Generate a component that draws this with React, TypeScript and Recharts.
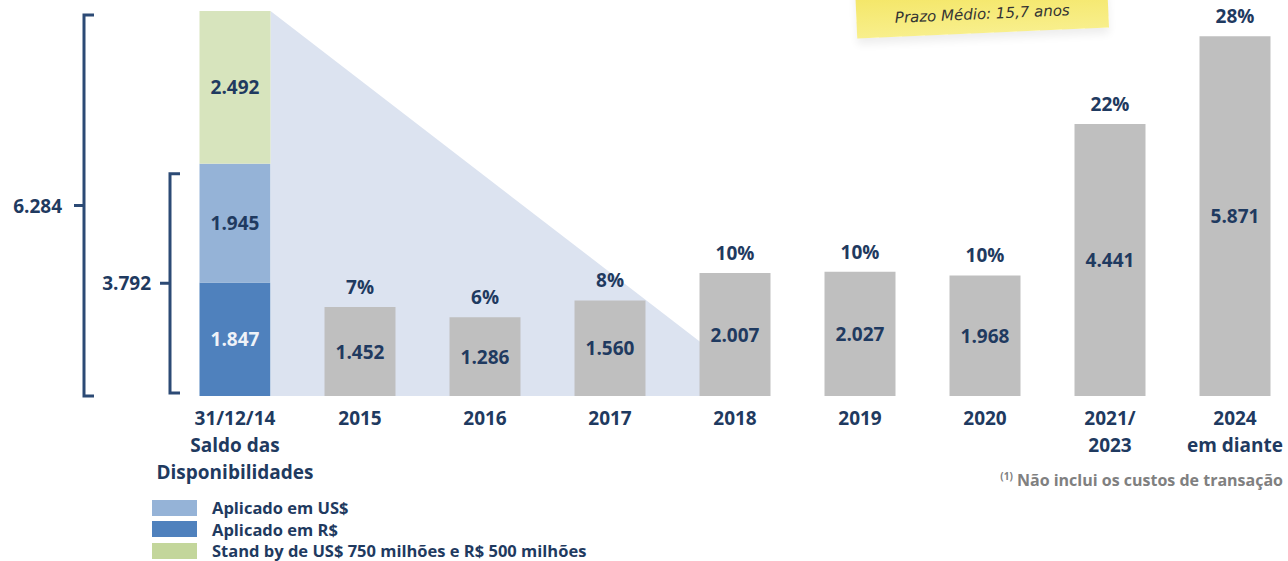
import React from "react";
import { BarChart, Bar, XAxis, YAxis, LabelList } from "recharts";

const categories = [
  "31/12/14\nSaldo das\nDisponibilidades",
  "2015",
  "2016",
  "2017",
  "2018",
  "2019",
  "2020",
  "2021/\n2023",
  "2024\nem diante",
];
const aplicadoRS = [1847, null, null, null, null, null, null, null, null];
const aplicadoUS = [1945, null, null, null, null, null, null, null, null];
const standBy = [2492, null, null, null, null, null, null, null, null];
const vencimentos = [null, 1452, 1286, 1560, 2007, 2027, 1968, 4441, 5871];
const percentuais = [null, 7, 6, 8, 10, 10, 10, 22, 28];

const legendItems = [
  { label: "Aplicado em US$", color: "#95b3d7" },
  { label: "Aplicado em R$", color: "#4f81bd" },
  { label: "Stand by de US$ 750 milhões e R$ 500 milhões", color: "#c3d69b" },
];

const data = categories.map((cat, i) => ({
  cat,
  rs: aplicadoRS[i],
  us: aplicadoUS[i],
  standby: standBy[i],
  venc: vencimentos[i],
  pct: percentuais[i],
}));

const W = 1288;
const H = 561;
const MARGIN = { top: 11, right: -9.5, left: 172.5, bottom: 85 };
const XAXIS_H = 80;
const PLOT_W = W - MARGIN.left - MARGIN.right;
const PLOT_BOTTOM = H - MARGIN.bottom - XAXIS_H;
const BAND = PLOT_W / categories.length;

const NAVY = "#1f3a60";
const FONT = "'Open Sans', sans-serif";

const fmt = (v: number) => String(v).replace(/\B(?=(\d{3})+(?!\d))/g, ".");

const totalInvested = (aplicadoRS[0] ?? 0) + (aplicadoUS[0] ?? 0);
const totalAll = totalInvested + (standBy[0] ?? 0);

function Bracket({ x, top, bottom, label, textGap }: any) {
  const mid = (top + bottom) / 2;
  return (
    <g>
      <path
        d={`M${x + 10},${top} L${x},${top} L${x},${bottom} L${x + 10},${bottom} M${x},${mid} L${x - 10},${mid}`}
        fill="none"
        stroke="#2c4a75"
        strokeWidth={3}
      />
      <text
        x={x - textGap}
        y={mid}
        dy={7}
        textAnchor="end"
        fontFamily={FONT}
        fontWeight={700}
        fontSize={19}
        fill={NAVY}
      >
        {label}
      </text>
    </g>
  );
}

// segmento verde: desenha tambem o triangulo e a chave externa
function StandByShape(props: any) {
  const { x, y, width, height, index, fill } = props;
  if (!height || height <= 0) return null;
  const right = x + width;
  const endX = right + 4 * BAND;
  return (
    <g>
      {index === 0 && (
        <polygon
          points={`${right},${y} ${endX},${PLOT_BOTTOM} ${right},${PLOT_BOTTOM}`}
          fill="#dce3f0"
        />
      )}
      <rect x={x} y={y} width={width} height={height} fill={fill} />
      {index === 0 && (
        <Bracket x={x - 115.5} top={y + 4} bottom={PLOT_BOTTOM} label={fmt(totalAll)} textGap={22} />
      )}
    </g>
  );
}

function USShape(props: any) {
  const { x, y, width, height, index, fill } = props;
  if (!height || height <= 0) return null;
  return (
    <g>
      <rect x={x} y={y} width={width} height={height} fill={fill} />
      {index === 0 && (
        <Bracket x={x - 29.5} top={y + 10} bottom={PLOT_BOTTOM - 3} label={fmt(totalInvested)} textGap={19} />
      )}
    </g>
  );
}

const valueLabel = (color: string) => (props: any) => {
  const { x, y, width, height, value } = props;
  if (value == null) return null;
  return (
    <text
      x={x + width / 2}
      y={y + height / 2}
      dy={7}
      textAnchor="middle"
      fontFamily={FONT}
      fontWeight={700}
      fontSize={19}
      fill={color}
    >
      {fmt(value)}
    </text>
  );
};

const pctLabel = (props: any) => {
  const { x, y, width, value } = props;
  if (value == null) return null;
  return (
    <text
      x={x + width / 2}
      y={y - 13}
      textAnchor="middle"
      fontFamily={FONT}
      fontWeight={700}
      fontSize={19}
      fill={NAVY}
    >
      {value}%
    </text>
  );
};

function CatTick(props: any) {
  const { x, payload } = props;
  const lines = String(payload.value).split("\n");
  return (
    <text
      x={x}
      y={PLOT_BOTTOM + 29}
      textAnchor="middle"
      fontFamily={FONT}
      fontWeight={700}
      fontSize={19}
      fill={NAVY}
    >
      {lines.map((l, i) => (
        <tspan key={i} x={x} dy={i === 0 ? 0 : 27}>
          {l}
        </tspan>
      ))}
    </text>
  );
}

export default function App() {
  return (
    <div style={{ position: "relative", width: W, height: H, fontFamily: FONT, overflow: "hidden" }}>
      <style>{`body{margin:0}`}</style>
      <BarChart width={W} height={H} data={data} margin={MARGIN} barSize={71}>
        <XAxis
          dataKey="cat"
          axisLine={false}
          tickLine={false}
          interval={0}
          height={XAXIS_H}
          tick={<CatTick />}
        />
        <YAxis hide domain={[0, totalAll]} />
        <Bar dataKey="rs" stackId="a" fill="#4f81bd" isAnimationActive={false}>
          <LabelList dataKey="rs" content={valueLabel("#eef2f8")} />
        </Bar>
        <Bar dataKey="us" stackId="a" fill="#95b3d7" isAnimationActive={false} shape={<USShape />}>
          <LabelList dataKey="us" content={valueLabel(NAVY)} />
        </Bar>
        <Bar dataKey="standby" stackId="a" fill="#d7e4bd" isAnimationActive={false} shape={<StandByShape />}>
          <LabelList dataKey="standby" content={valueLabel(NAVY)} />
        </Bar>
        <Bar dataKey="venc" stackId="a" fill="#bfbfbf" isAnimationActive={false}>
          <LabelList dataKey="venc" content={valueLabel(NAVY)} />
          <LabelList dataKey="pct" content={pctLabel} />
        </Bar>
      </BarChart>

      {/* post-it */}
      <div
        style={{
          position: "absolute",
          left: 856,
          top: -19,
          width: 252,
          height: 52,
          background: "linear-gradient(#f3e45e, #f8ef8c)",
          transform: "rotate(-2.5deg)",
          boxShadow: "0 6px 8px rgba(0,0,0,0.07)",
          display: "flex",
          alignItems: "flex-end",
          justifyContent: "center",
          paddingBottom: 10,
          boxSizing: "border-box",
          fontFamily: "'DejaVu Sans', sans-serif",
          fontStyle: "italic",
          fontSize: 15,
          color: "#333",
        }}
      >
        Prazo Médio: 15,7 anos
      </div>

      {/* legenda */}
      <div style={{ position: "absolute", left: 152, top: 497 }}>
        {legendItems.map((it) => (
          <div key={it.label} style={{ display: "flex", alignItems: "center", height: 21.5 }}>
            <div style={{ width: 45, height: 16, background: it.color, marginRight: 15 }} />
            <span style={{ fontSize: 16.5, fontWeight: 700, color: NAVY }}>{it.label}</span>
          </div>
        ))}
      </div>

      {/* nota */}
      <div
        style={{
          position: "absolute",
          right: 5,
          top: 469,
          fontSize: 16,
          fontWeight: 700,
          color: "#808080",
          whiteSpace: "nowrap",
        }}
      >
        <sup style={{ fontSize: 10 }}>(1)</sup> Não inclui os custos de transação
      </div>
    </div>
  );
}
